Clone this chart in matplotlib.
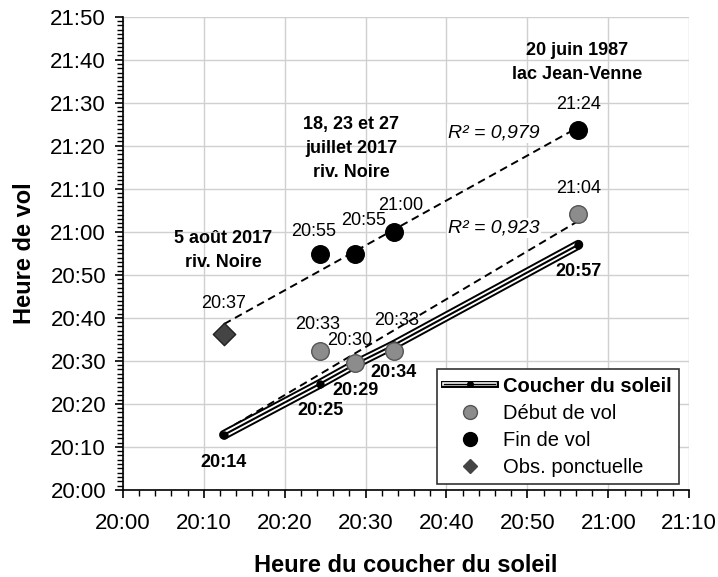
import numpy as np
import matplotlib.pyplot as plt
from matplotlib.ticker import MultipleLocator, FuncFormatter
from matplotlib.lines import Line2D

plt.rcParams['font.family'] = ['Liberation Sans', 'DejaVu Sans']

# minutes after 20:00
sunset_x = [12.5, 24.4, 28.7, 33.5, 56.3]
sunset_y = [12.8, 24.7, 29.2, 33.7, 57.0]
sunset_lbl = ['20:14', '20:25', '20:29', '20:34', '20:57']

debut_x = [24.4, 28.7, 33.5, 56.3]
debut_y = [32.3, 29.5, 32.3, 64.2]
debut_lbl = ['20:33', '20:30', '20:33', '21:04']

fin_x = [24.4, 28.7, 33.5, 56.3]
fin_y = [54.9, 54.9, 60.0, 83.7]
fin_lbl = ['20:55', '20:55', '21:00', '21:24']

obs_x = [12.5]
obs_y = [36.3]
obs_lbl = ['20:37']


def hhmm(v, pos=None):
    m = int(round(v))
    return '%d:%02d' % (20 + m // 60, m % 60)


fig = plt.figure(figsize=(7.18, 5.77), dpi=100)
ax = fig.add_axes([0.171, 0.151, 0.789, 0.820])

ax.set_xlim(0, 70)
ax.set_ylim(0, 110)
ax.xaxis.set_major_locator(MultipleLocator(10))
ax.xaxis.set_minor_locator(MultipleLocator(2))
ax.yaxis.set_major_locator(MultipleLocator(10))
ax.yaxis.set_minor_locator(MultipleLocator(1))
ax.xaxis.set_major_formatter(FuncFormatter(hhmm))
ax.yaxis.set_major_formatter(FuncFormatter(hhmm))
ax.grid(True, which='major', color='#d0d0d0', lw=1)
ax.set_axisbelow(True)
for s in ['top', 'right']:
    ax.spines[s].set_visible(False)
for s in ['left', 'bottom']:
    ax.spines[s].set_linewidth(1.2)
ax.tick_params(axis='both', which='major', length=6, width=1.2, labelsize=16, pad=6)
ax.tick_params(axis='x', which='major', pad=11)
ax.tick_params(axis='both', which='minor', length=4, width=1)

# trend lines (fits computed from the points)
xr = np.array([sunset_x[0], sunset_x[-1]])
up_x = np.array(obs_x + fin_x)
up_y = np.array(obs_y + fin_y)
a1, b1 = np.polyfit(up_x, up_y, 1)
ax.plot(xr, a1 * xr + b1, color='black', ls=(0, (4, 2.5)), lw=1.4, zorder=3)
a2, b2 = np.polyfit(debut_x, debut_y, 1)
ax.plot(xr, a2 * xr + b2, color='black', ls=(0, (4, 2.5)), lw=1.4, zorder=3)

# sunset line: black outline, white inside, thin black core
ax.plot(sunset_x, sunset_y, color='black', lw=7, solid_capstyle='round', zorder=4)
ax.plot(sunset_x, sunset_y, color='white', lw=4.2, solid_capstyle='round', zorder=4)
ax.plot(sunset_x, sunset_y, color='black', lw=1.5, marker='o', ms=5, zorder=4)

ax.scatter(debut_x, debut_y, s=160, color='#8c8c8c', edgecolor='#555555', lw=1, zorder=5)
ax.scatter(fin_x, fin_y, s=160, color='black', zorder=5)
ax.scatter(obs_x, obs_y, s=130, marker='D', color='#444444', edgecolor='#222222', zorder=5)

# point labels
sun_off = [(0, -20), (0, -19), (0, -19), (0, -20), (0, -19)]
for x, y, t, o in zip(sunset_x, sunset_y, sunset_lbl, sun_off):
    ax.annotate(t, (x, y), xytext=o, textcoords='offset points', ha='center', va='center',
                fontsize=13, fontweight='bold')
deb_off = [(-2, 19), (-4, 16), (2, 22), (0, 18)]
for x, y, t, o in zip(debut_x, debut_y, debut_lbl, deb_off):
    ax.annotate(t, (x, y), xytext=o, textcoords='offset points', ha='center', va='center',
                fontsize=13)
fin_off = [(-5, 16), (6, 24), (5, 19), (0, 18)]
for x, y, t, o in zip(fin_x, fin_y, fin_lbl, fin_off):
    ax.annotate(t, (x, y), xytext=o, textcoords='offset points', ha='center', va='center',
                fontsize=13)
for x, y, t in zip(obs_x, obs_y, obs_lbl):
    ax.annotate(t, (x, y), xytext=(0, 22), textcoords='offset points', ha='center', va='center',
                fontsize=13)

# site annotations
ax.text(56.1, 99.3, '20 juin 1987\nlac Jean-Venne', ha='center', va='center',
        fontsize=13, fontweight='bold', linespacing=1.55)
ax.text(28.2, 79.3, '18, 23 et 27\njuillet 2017\nriv. Noire', ha='center', va='center',
        fontsize=13, fontweight='bold', linespacing=1.55)
ax.text(12.4, 55.7, '5 août 2017\nriv. Noire', ha='center', va='center',
        fontsize=13, fontweight='bold', linespacing=1.55)
ax.text(51.5, 83.0, 'R² = 0,979', ha='right', va='center', fontsize=14, style='italic',
        bbox=dict(facecolor='white', edgecolor='none', pad=1))
ax.text(51.5, 60.9, 'R² = 0,923', ha='right', va='center', fontsize=14, style='italic',
        bbox=dict(facecolor='white', edgecolor='none', pad=1))

ax.set_xlabel('Heure du coucher du soleil', fontsize=17, fontweight='bold', labelpad=14)
ax.set_ylabel('Heure de vol', fontsize=17, fontweight='bold', labelpad=10)

# legend
h_sun = (Line2D([], [], color='black', lw=5), Line2D([], [], color='white', lw=2.6),
         Line2D([], [], color='black', lw=1, marker='o', ms=4))
h_deb = Line2D([], [], ls='none', marker='o', ms=10, color='#8c8c8c', mec='#555555')
h_fin = Line2D([], [], ls='none', marker='o', ms=10, color='black')
h_obs = Line2D([], [], ls='none', marker='D', ms=7, color='#444444')
leg = ax.legend([h_sun, h_deb, h_fin, h_obs],
                ['Coucher du soleil', 'Début de vol', 'Fin de vol', 'Obs. ponctuelle'],
                loc='lower right', bbox_to_anchor=(0.981, 0.013), borderaxespad=0,
                fontsize=14.5, frameon=True, fancybox=False, edgecolor='#333333',
                framealpha=1, handlelength=2.5, handletextpad=0.4, borderpad=0.35,
                labelspacing=0.4)
leg.get_frame().set_linewidth(1.2)
leg.get_texts()[0].set_fontweight('bold')

fig.savefig('out.png', dpi=100)
